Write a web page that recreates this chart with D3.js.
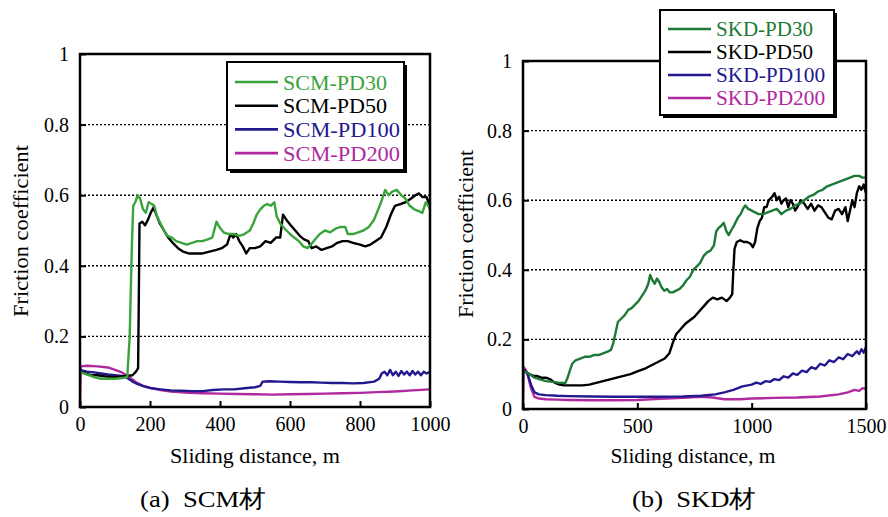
<!DOCTYPE html>
<html>
<head>
<meta charset="utf-8">
<script src="https://cdn.jsdelivr.net/npm/d3@7"></script>
</head>
<body style="margin:0; background:#fff">
<svg id="chart" width="888" height="517" style="display:block"></svg>
<script>
// (a) SCM material, friction coefficient vs sliding distance [m, mu]
var scmPD30 = [[0,.10],[10,.095],[25,.09],[40,.085],[60,.08],[80,.08],[100,.08],[120,.082],[135,.085],[142,.2],[148,.45],[152,.57],[158,.58],[165,.60],[172,.59],[180,.56],[188,.55],[196,.58],[205,.575],[212,.57],[220,.54],[230,.52],[240,.50],[250,.485],[262,.48],[275,.47],[290,.465],[305,.46],[320,.465],[335,.47],[350,.47],[365,.475],[378,.48],[390,.525],[398,.51],[410,.495],[425,.49],[440,.49],[455,.485],[470,.49],[485,.50],[495,.52],[505,.545],[515,.56],[525,.57],[535,.575],[545,.57],[555,.58],[562,.54],[572,.52],[585,.505],[600,.49],[612,.48],[625,.47],[638,.455],[650,.45],[660,.46],[672,.475],[685,.49],[700,.50],[715,.495],[730,.505],[745,.51],[758,.51],[765,.49],[780,.49],[795,.495],[810,.50],[825,.51],[840,.53],[852,.56],[862,.585],[872,.615],[882,.60],[892,.61],[905,.615],[918,.60],[930,.59],[942,.57],[955,.56],[968,.555],[978,.55],[988,.58],[995,.57],[1000,.56]];
var scmPD50 = [[0,.10],[15,.095],[30,.09],[50,.09],[70,.087],[90,.085],[110,.085],[130,.088],[150,.09],[160,.10],[166,.11],[168,.30],[170,.52],[178,.525],[186,.515],[194,.53],[202,.55],[210,.565],[218,.545],[228,.52],[240,.50],[252,.48],[265,.465],[280,.45],[295,.44],[310,.435],[330,.435],[350,.435],[370,.44],[390,.445],[405,.45],[420,.46],[430,.49],[438,.48],[446,.49],[455,.47],[465,.455],[475,.435],[485,.45],[500,.45],[515,.455],[530,.47],[545,.465],[560,.48],[572,.48],[580,.545],[590,.53],[602,.515],[615,.50],[628,.485],[640,.475],[652,.47],[662,.45],[675,.455],[690,.445],[705,.45],[720,.455],[735,.465],[750,.47],[765,.47],[780,.465],[800,.46],[815,.455],[830,.46],[845,.47],[860,.48],[875,.51],[888,.545],[900,.57],[915,.575],[930,.58],[945,.59],[958,.60],[968,.605],[978,.595],[990,.595],[1000,.57]];
var scmPD100 = [[0,.105],[20,.10],[40,.098],[60,.095],[80,.092],[100,.09],[120,.088],[135,.082],[150,.072],[165,.065],[185,.058],[205,.053],[230,.05],[260,.047],[290,.046],[320,.045],[350,.045],[380,.048],[410,.05],[440,.05],[470,.053],[500,.056],[515,.06],[522,.072],[540,.073],[570,.072],[600,.071],[630,.07],[660,.07],[690,.069],[720,.068],[750,.068],[780,.067],[810,.068],[840,.072],[855,.08],[862,.095],[870,.10],[878,.09],[886,.105],[894,.09],[902,.10],[910,.088],[918,.102],[926,.092],[934,.10],[942,.09],[950,.102],[958,.092],[966,.10],[974,.09],[982,.10],[990,.095],[1000,.10]];
var scmPD200 = [[0,0],[2,.115],[20,.117],[50,.115],[80,.112],[100,.105],[120,.098],[140,.085],[160,.07],[180,.06],[200,.054],[230,.048],[260,.044],[300,.041],[350,.039],[400,.038],[450,.037],[500,.036],[550,.035],[600,.036],[650,.037],[700,.038],[750,.039],[800,.040],[850,.042],[900,.044],[950,.047],[1000,.05]];

// (b) SKD material
var skdPD30 = [[0,.11],[15,.105],[30,.10],[50,.09],[75,.085],[100,.08],[130,.078],[160,.075],[185,.075],[195,.09],[205,.11],[215,.13],[230,.14],[250,.145],[270,.15],[290,.15],[310,.155],[330,.155],[350,.16],[370,.165],[385,.17],[395,.19],[405,.22],[415,.25],[430,.26],[445,.27],[460,.285],[475,.29],[490,.30],[505,.31],[520,.325],[535,.34],[548,.36],[556,.385],[566,.37],[576,.36],[586,.375],[596,.365],[606,.35],[618,.34],[630,.345],[642,.335],[655,.335],[670,.34],[685,.345],[700,.355],[715,.37],[730,.38],[745,.40],[760,.41],[775,.42],[790,.44],[805,.45],[820,.455],[835,.47],[845,.51],[855,.52],[865,.525],[878,.535],[890,.51],[900,.50],[912,.515],[925,.53],[940,.55],[952,.56],[962,.575],[972,.585],[985,.575],[1000,.57],[1015,.565],[1030,.56],[1050,.56],[1070,.565],[1090,.57],[1110,.575],[1130,.56],[1150,.57],[1170,.575],[1190,.585],[1210,.59],[1230,.60],[1250,.61],[1270,.615],[1290,.625],[1310,.63],[1330,.64],[1350,.645],[1370,.65],[1390,.655],[1410,.66],[1430,.665],[1450,.67],[1470,.67],[1485,.665],[1500,.665]];
var skdPD50 = [[0,.11],[15,.105],[30,.10],[45,.095],[60,.095],[80,.09],[100,.09],[120,.085],[140,.075],[160,.07],[180,.068],[200,.068],[230,.068],[260,.068],[290,.07],[320,.075],[350,.08],[380,.085],[410,.09],[440,.095],[470,.10],[500,.108],[530,.115],[560,.125],[590,.135],[620,.145],[640,.16],[655,.19],[670,.215],[690,.23],[710,.245],[730,.255],[750,.265],[770,.28],[790,.295],[810,.31],[830,.32],[850,.315],[870,.32],[890,.31],[905,.32],[915,.33],[920,.40],[925,.46],[935,.48],[950,.485],[965,.48],[980,.48],[995,.475],[1005,.465],[1015,.48],[1025,.52],[1035,.54],[1045,.55],[1055,.58],[1065,.58],[1075,.60],[1090,.61],[1100,.62],[1110,.60],[1120,.61],[1130,.59],[1140,.60],[1150,.605],[1160,.58],[1170,.60],[1180,.59],[1190,.57],[1200,.58],[1215,.60],[1230,.59],[1245,.575],[1260,.59],[1275,.57],[1290,.585],[1305,.58],[1320,.565],[1335,.55],[1350,.545],[1365,.57],[1380,.575],[1395,.56],[1410,.58],[1420,.54],[1430,.57],[1440,.60],[1450,.58],[1460,.62],[1470,.64],[1480,.63],[1490,.645],[1500,.62]];
var skdPD100 = [[0,.115],[10,.11],[20,.10],[35,.07],[50,.048],[70,.042],[100,.04],[150,.038],[200,.037],[300,.036],[400,.035],[500,.035],[600,.035],[700,.036],[780,.038],[840,.042],[880,.048],[920,.055],[960,.065],[1000,.07],[1020,.076],[1040,.072],[1060,.08],[1080,.078],[1100,.086],[1120,.083],[1140,.094],[1160,.09],[1180,.102],[1200,.098],[1220,.11],[1240,.106],[1260,.12],[1280,.115],[1300,.13],[1320,.125],[1340,.14],[1360,.135],[1380,.148],[1400,.143],[1420,.158],[1440,.152],[1460,.166],[1470,.158],[1480,.172],[1490,.162],[1500,.178]];
var skdPD200 = [[0,0],[3,.12],[10,.115],[20,.10],[35,.06],[50,.035],[70,.03],[100,.028],[150,.027],[200,.026],[300,.025],[400,.025],[500,.026],[600,.029],[700,.032],[780,.035],[830,.033],[880,.028],[950,.028],[1000,.03],[1100,.032],[1200,.033],[1300,.036],[1380,.042],[1420,.048],[1450,.055],[1470,.052],[1485,.06],[1500,.058]];

var scmNames = ['SCM-PD30', 'SCM-PD50', 'SCM-PD100', 'SCM-PD200'];
var skdNames = ['SKD-PD30', 'SKD-PD50', 'SKD-PD100', 'SKD-PD200'];
var yTicks = [0, 0.2, 0.4, 0.6, 0.8, 1];
var gridTicks = [0.2, 0.4, 0.6, 0.8];
var scmXTicks = [0, 200, 400, 600, 800, 1000];
var skdXTicks = [0, 500, 1000, 1500];

var serif = '"Liberation Serif"';
var svg = d3.select('#chart');

// panel a
drawPanel({
    left: 80, right: 430, top: 54, bottom: 407,
    xMax: 1000, xTicks: scmXTicks,
    series: [scmPD30, scmPD50, scmPD100, scmPD200],
    names: scmNames,
    colors: ['#3aa33c', '#000000', '#23198f', '#b0299f'],
    legend: { x: 227, y: 62, w: 177, h: 108, fs: 21.5, row0: 82, step: 23.7, tl: 104 },
    ytitle: { x: 28, y: 231, len: 172 },
    xtitle: { x: 255, y: 463, len: 170 },
    caption: { x: 140, y: 507, len: 126, text: '(a)\u00a0\u00a0SCM材' }
});

// panel b
drawPanel({
    left: 523, right: 866, top: 61, bottom: 409,
    xMax: 1500, xTicks: skdXTicks,
    series: [skdPD30, skdPD50, skdPD100, skdPD200],
    names: skdNames,
    colors: ['#1c7a36', '#000000', '#23198f', '#b0299f'],
    legend: { x: 660, y: 10, w: 174, h: 105, fs: 20, row0: 29, step: 23, tl: 97 },
    ytitle: { x: 473, y: 234, len: 168 },
    xtitle: { x: 693, y: 463, len: 165 },
    caption: { x: 632, y: 507, len: 124, text: '(b)\u00a0\u00a0SKD材' }
});

function drawPanel(p) {

    var xs = d3.scaleLinear().domain([0, p.xMax]).range([p.left, p.right]);
    var ys = d3.scaleLinear().domain([0, 1]).range([p.bottom, p.top]);
    var g = svg.append('g');

    // dotted grid
    g.selectAll('.grid').data(gridTicks)
        .enter()
        .append('line')
        .attr('x1', p.left).attr('x2', p.right)
        .attr('y1', function (d) { return ys(d); })
        .attr('y2', function (d) { return ys(d); })
        .attr('stroke', '#000')
        .attr('stroke-width', 1.4)
        .attr('stroke-dasharray', '2,2');

    var line = d3.line()
        .x(function (d) { return xs(d[0]); })
        .y(function (d) { return ys(d[1]); });

    // draw back to front so PD30 sits on top
    for (var i = p.series.length - 1; i >= 0; i--) {
        g.append('path')
            .datum(p.series[i])
            .attr('d', line)
            .attr('fill', 'none')
            .attr('stroke', p.colors[i])
            .attr('stroke-width', 2.4)
            .attr('stroke-linejoin', 'round');
    }

    var xAxis = g.append('g')
        .attr('transform', 'translate(0,' + p.bottom + ')')
        .call(d3.axisBottom(xs).tickValues(p.xTicks).tickSizeInner(-6).tickSizeOuter(0).tickPadding(10).tickFormat(d3.format('d')));
    var yAxis = g.append('g')
        .attr('transform', 'translate(' + p.left + ',0)')
        .call(d3.axisLeft(ys).tickValues(yTicks).tickSizeInner(-6).tickSizeOuter(0).tickPadding(11)
            .tickFormat(function (d) { return d == 0 || d == 1 ? d3.format('d')(d) : d3.format('.1f')(d); }));

    [xAxis, yAxis].forEach(function (a) {
        a.attr('font-family', null).attr('font-size', null);
        a.select('.domain').remove();
        a.selectAll('line').attr('stroke', '#000').attr('stroke-width', 2);
        a.selectAll('text')
            .attr('font-family', serif)
            .attr('font-size', 20)
            .attr('fill', '#000');
    });

    // frame
    g.append('rect')
        .attr('x', p.left).attr('y', p.top)
        .attr('width', p.right - p.left).attr('height', p.bottom - p.top)
        .attr('fill', 'none')
        .attr('stroke', '#000')
        .attr('stroke-width', 2.5);

    // legend with drop shadow
    var L = p.legend;
    g.append('rect')
        .attr('x', L.x + 3).attr('y', L.y + 3)
        .attr('width', L.w).attr('height', L.h)
        .attr('fill', '#000');
    g.append('rect')
        .attr('x', L.x).attr('y', L.y)
        .attr('width', L.w).attr('height', L.h)
        .attr('fill', '#fff')
        .attr('stroke', '#000')
        .attr('stroke-width', 2);

    var rows = g.selectAll('.leg').data(p.names)
        .enter()
        .append('g')
        .attr('transform', function (d, i) { return 'translate(' + L.x + ',' + (L.row0 + i * L.step) + ')'; });
    rows.append('line')
        .attr('x1', 8).attr('x2', 51)
        .attr('stroke', function (d, i) { return p.colors[i]; })
        .attr('stroke-width', 2.6);
    rows.append('text')
        .attr('x', 56)
        .attr('dy', '0.35em')
        .attr('font-family', serif)
        .attr('font-size', L.fs)
        .attr('textLength', function (d) { return L.tl * d.length / 8; })
        .attr('lengthAdjust', 'spacingAndGlyphs')
        .attr('fill', function (d, i) { return p.colors[i]; })
        .text(function (d) { return d; });

    // titles
    g.append('text')
        .attr('transform', 'translate(' + p.ytitle.x + ',' + p.ytitle.y + ') rotate(-90)')
        .attr('text-anchor', 'middle')
        .attr('font-family', serif)
        .attr('font-size', 21)
        .attr('textLength', p.ytitle.len)
        .attr('lengthAdjust', 'spacingAndGlyphs')
        .text('Friction coefficient');

    g.append('text')
        .attr('x', p.xtitle.x)
        .attr('y', p.xtitle.y)
        .attr('text-anchor', 'middle')
        .attr('font-family', serif)
        .attr('font-size', 21)
        .attr('textLength', p.xtitle.len)
        .attr('lengthAdjust', 'spacingAndGlyphs')
        .text('Sliding distance, m');

    g.append('text')
        .attr('x', p.caption.x)
        .attr('y', p.caption.y)
        .attr('font-family', serif)
        .attr('font-size', 24)
        .attr('textLength', p.caption.len)
        .attr('lengthAdjust', 'spacingAndGlyphs')
        .text(p.caption.text);
}
</script>
</body>
</html>
